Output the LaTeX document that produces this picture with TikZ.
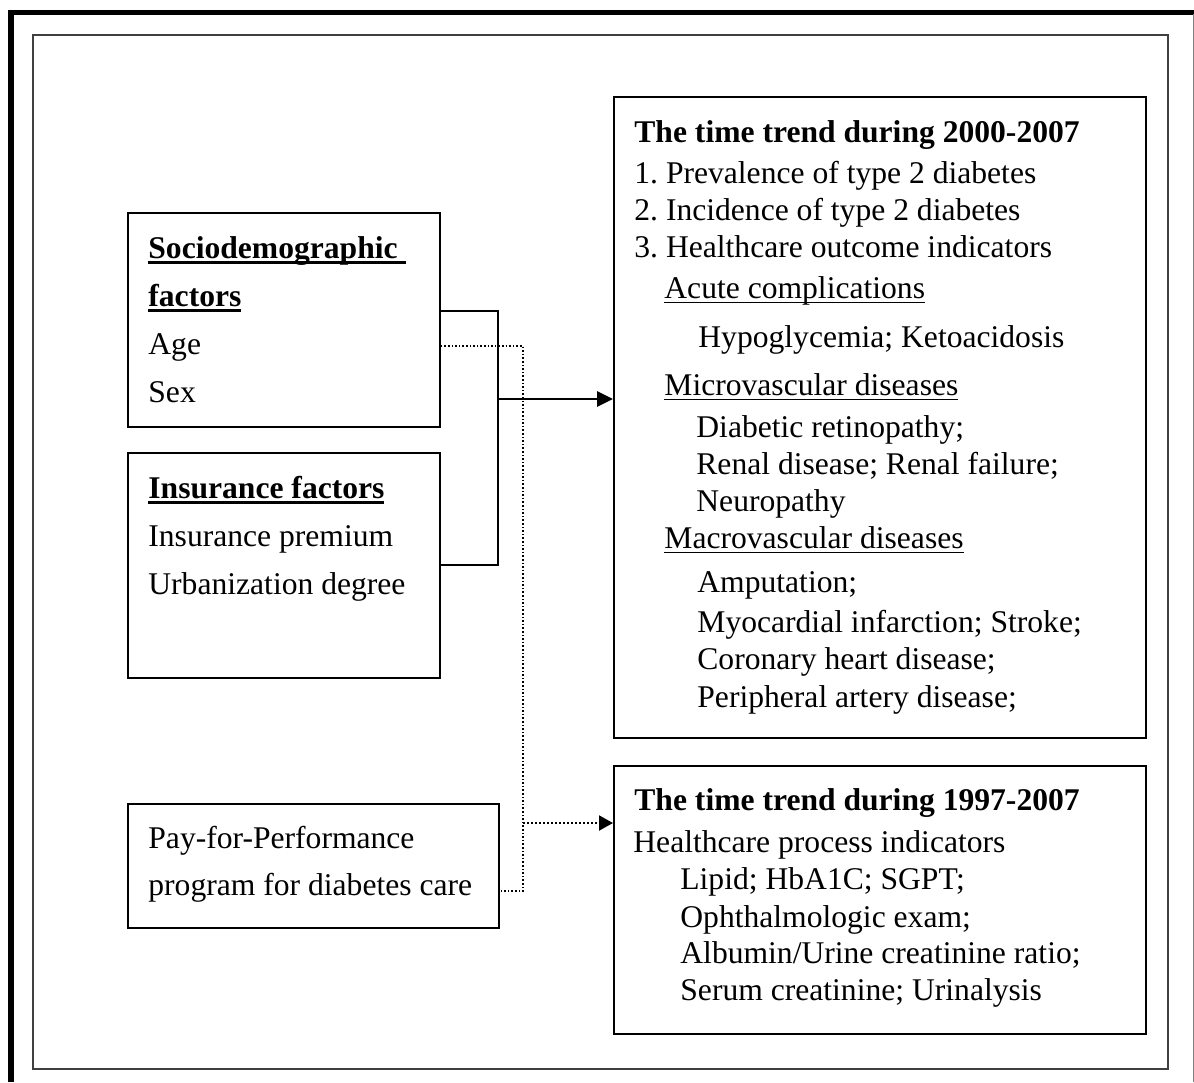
\documentclass[tikz,border=0pt]{standalone}
\usepackage{fontspec}
\setmainfont{Liberation Serif}
\usetikzlibrary{arrows.meta}
\tikzset{>=stealth}
\frenchspacing
% underlines as in the original figure
\newcommand{\ulbold}[1]{\setbox0\hbox{#1}\rlap{\rule[-3pt]{\wd0}{1.4pt}}\box0}
\newcommand{\ulplain}[1]{\setbox0\hbox{#1}\rlap{\rule[-2.6pt]{\wd0}{0.7pt}}\box0}

\begin{document}
\begin{tikzpicture}[x=0.5pt,y=-0.5pt,
    box/.style={draw, line width=0.9pt, anchor=north west, inner sep=0pt},
    txt/.style={anchor=base west, inner sep=0pt, font=\fontsize{15.8}{18}\selectfont},
    solidline/.style={line width=1pt},
    dotline/.style={densely dotted, line width=0.8pt}]
          \useasboundingbox (0,0) rectangle (1194,1082);

          % frames
          \draw[line width=2.8pt] (11,1082) -- (11,12.5) -- (1194,12.5);
          \draw[gray, line width=0.4pt] (1193,14) -- (1193,1082);
          \draw[black!75, line width=0.6pt] (33,35) rectangle (1168,1069);

          % boxes on the left
          \node[box, minimum width=156pt, minimum height=107pt] (sd) at (127,212) {};
          \node[box, minimum width=156pt, minimum height=112.5pt] (ins) at (127,452) {};
          \node[box, minimum width=185.5pt, minimum height=62pt] (pfp) at (127,803) {};

          % boxes on the right
          \node[box, minimum width=266pt, minimum height=320.5pt] (tt1) at (613,96) {};
          \node[box, minimum width=266pt, minimum height=134pt] (tt2) at (613,765) {};

          % Sociodemographic factors
          \node[txt] (sdh) at (148,258) {\ulbold{\textbf{Sociodemographic }}};
          \node[txt] (sdh2) at (148,306) {\ulbold{\textbf{factors}}};
          \node[txt] (age) at (148,354) {Age};
          \node[txt] (sex) at (148,402) {Sex};

          % Insurance factors
          \node[txt] (insh) at (148,498) {\ulbold{\textbf{Insurance factors}}};
          \node[txt] (prem) at (148,546) {Insurance premium};
          \node[txt] (urb) at (148,594) {Urbanization degree};

          % Pay-for-Performance
          \node[txt] (pfp1) at (148,848) {Pay-for-Performance};
          \node[txt] (pfp2) at (148,895) {program for diabetes care};

          % time trend 2000-2007
          \node[txt] (t1h) at (634,142) {\textbf{The time trend during 2000-2007}};
          \node[txt] (t1a) at (634,183) {1. Prevalence of type 2 diabetes};
          \node[txt] (t1b) at (634,220) {2. Incidence of type 2 diabetes};
          \node[txt] (t1c) at (634,257) {3. Healthcare outcome indicators};
          \node[txt] (acu) at (664,298) {\ulplain{Acute complications}};
          \node[txt] (hyp) at (698,347) {Hypoglycemia; Ketoacidosis};
          \node[txt] (mic) at (664,395) {\ulplain{Microvascular diseases}};
          \node[txt] (ret) at (696,437) {Diabetic retinopathy;};
          \node[txt] (ren) at (696,474) {Renal disease; Renal failure;};
          \node[txt] (neu) at (696,511) {Neuropathy};
          \node[txt] (mac) at (664,548) {\ulplain{Macrovascular diseases}};
          \node[txt] (amp) at (697,592) {Amputation;};
          \node[txt] (myo) at (697,632) {Myocardial infarction; Stroke;};
          \node[txt] (cor) at (697,669) {Coronary heart disease;};
          \node[txt] (per) at (697,707) {Peripheral artery disease;};

          % time trend 1997-2007
          \node[txt] (t2h) at (634,810) {\textbf{The time trend during 1997-2007}};
          \node[txt] (t2a) at (633,852) {Healthcare process indicators};
          \node[txt] (lip) at (680,889) {Lipid; HbA1C; SGPT;};
          \node[txt] (oph) at (680,927) {Ophthalmologic exam;};
          \node[txt] (alb) at (680,963) {Albumin/Urine creatinine ratio;};
          \node[txt] (ser) at (680,1000) {Serum creatinine; Urinalysis};

          % solid bracket and arrow
          \coordinate (jt) at (498,311);
          \coordinate (j) at (498,399);
          \draw[solidline] (sd.east |- jt) -- (jt) -- (jt |- ins.east) -- (ins.east);
          \draw[line width=1.35pt, -{Triangle[length=8pt,width=7.5pt]}] (j) -- (j -| tt1.west);

          % dotted line and arrow
          \coordinate (d1) at (523,346);
          \coordinate (d2) at (523,891);
          \coordinate (d3) at (523,823);
          \draw[dotline] (sd.east |- d1) -- (d1) -- (d2) -- (pfp.east |- d2);
          \draw[dotline, line width=1pt, -{Triangle[length=7pt,width=7.5pt]}] (d3) -- (d3 -| tt2.west);
          \end{tikzpicture}
\end{document}
